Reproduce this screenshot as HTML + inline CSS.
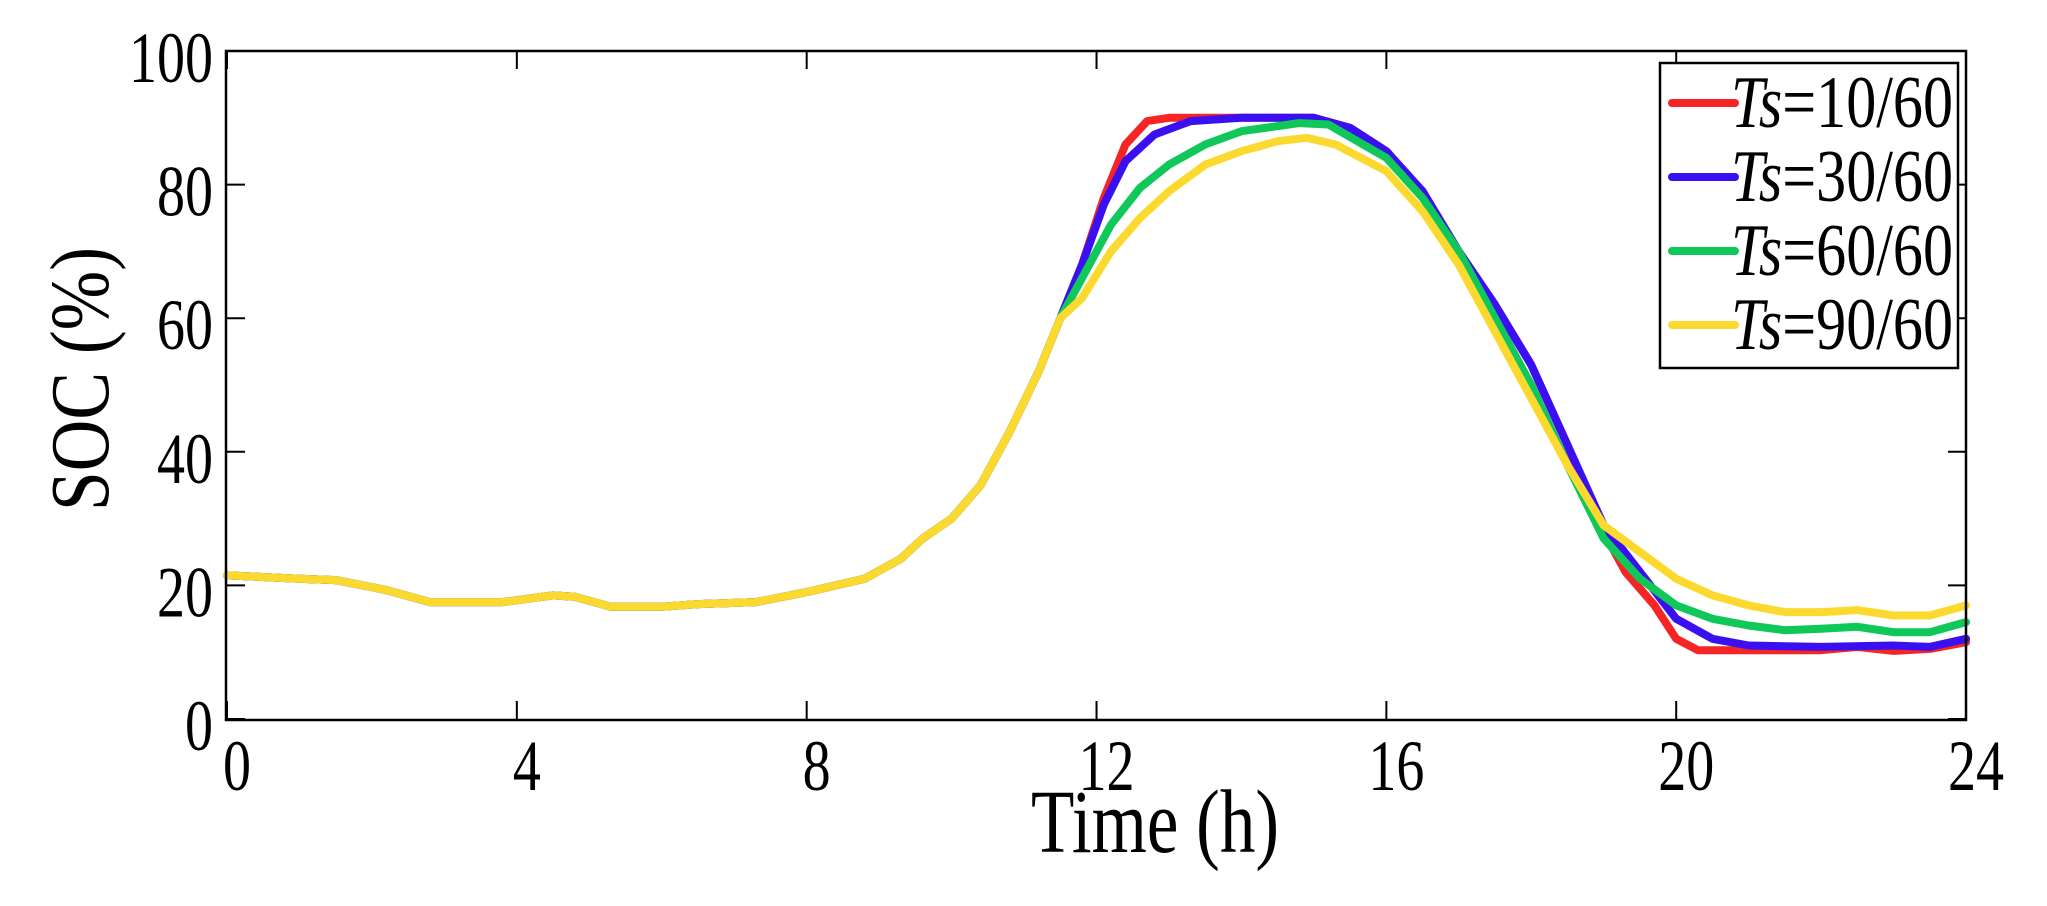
<!DOCTYPE html>
<html><head><meta charset="utf-8"><style>
html,body{margin:0;padding:0;background:#fff;}
svg text{font-family:"Liberation Serif",serif;fill:#000;}
</style></head><body>
<svg id="s" width="2047" height="901" viewBox="0 0 2047 901" xmlns="http://www.w3.org/2000/svg">
<rect width="2047" height="901" fill="#fff"/>
<g id="ticks" stroke="#000" stroke-width="2"></g>
<g id="lines" fill="none" stroke-width="8" stroke-linejoin="round" stroke-linecap="round"></g>
<rect x="226" y="51" width="1740" height="669" fill="none" stroke="#000" stroke-width="2.5"/>
<g font-size="72" text-anchor="end" id="yl"></g>
<g font-size="72" text-anchor="middle" id="xl"></g>
<text x="1155" y="852" font-size="90" text-anchor="middle" textLength="248" lengthAdjust="spacingAndGlyphs">Time (h)</text>
<text transform="translate(108,379) rotate(-90)" font-size="84" text-anchor="middle" textLength="264" lengthAdjust="spacingAndGlyphs">SOC (%)</text>
<rect x="1660" y="63" width="298" height="305" fill="#fff" stroke="#000" stroke-width="2.5"/>
<g stroke-width="8" stroke-linecap="round">
<line x1="1672" y1="103" x2="1735" y2="103" stroke="#f52525"/>
<line x1="1672" y1="177" x2="1735" y2="177" stroke="#3a10f0"/>
<line x1="1672" y1="251" x2="1735" y2="251" stroke="#10c85a"/>
<line x1="1672" y1="325" x2="1735" y2="325" stroke="#fcd92e"/>
</g>
<g font-size="74">
<text x="1731" y="127" textLength="222" lengthAdjust="spacingAndGlyphs"><tspan font-style="italic">Ts</tspan>=10/60</text>
<text x="1731" y="201" textLength="222" lengthAdjust="spacingAndGlyphs"><tspan font-style="italic">Ts</tspan>=30/60</text>
<text x="1731" y="275" textLength="222" lengthAdjust="spacingAndGlyphs"><tspan font-style="italic">Ts</tspan>=60/60</text>
<text x="1731" y="349" textLength="222" lengthAdjust="spacingAndGlyphs"><tspan font-style="italic">Ts</tspan>=90/60</text>
</g>
</svg>
<script>
var X=h=>227+h*72.46, Y=v=>719-v*6.68, ns="http://www.w3.org/2000/svg";
var t=document.getElementById('ticks'),xl=document.getElementById('xl'),yl=document.getElementById('yl');
function ln(g,a,b,c,d){var l=document.createElementNS(ns,'line');l.setAttribute('x1',a);l.setAttribute('y1',b);l.setAttribute('x2',c);l.setAttribute('y2',d);g.appendChild(l);}
function tx(g,x,y,s){var e=document.createElementNS(ns,'text');e.setAttribute('x',x);e.setAttribute('y',y);e.setAttribute('textLength',s.length*28);e.setAttribute('lengthAdjust','spacingAndGlyphs');e.textContent=s;g.appendChild(e);}
for(var h=0;h<=24;h+=4){ln(t,X(h),719,X(h),701);ln(t,X(h),51,X(h),69);tx(xl,X(h)+10,790,String(h));}
for(var v=0;v<=100;v+=20){ln(t,227,Y(v),245,Y(v));ln(t,1966,Y(v),1948,Y(v));tx(yl,213,Y(v)+31,String(v));}
var common=[[0,21.5],[1,21],[1.5,20.8],[2.2,19.3],[2.8,17.5],[3.8,17.5],[4.5,18.5],[4.8,18.3],[5.3,16.8],[6,16.8],[6.5,17.2],[7.3,17.5],[8,19],[8.8,21],[9.3,24],[9.6,27],[10,30],[10.4,35],[10.8,43],[11.2,52],[11.5,60]];
var S={
"#f52525":[[11.8,68],[12.1,78],[12.4,86],[12.7,89.5],[13,90],[15,90],[15.5,88.5],[16,85],[16.5,79],[17,70],[17.5,62],[18,53],[18.5,41],[19,28],[19.3,22],[19.7,17],[20,12],[20.3,10.3],[22,10.3],[22.5,10.8],[23,10.2],[23.5,10.5],[24,11.5]],
"#3a10f0":[[11.8,68],[12.1,77],[12.4,83.5],[12.8,87.5],[13.3,89.5],[14,90],[15,90],[15.5,88.5],[16,85],[16.5,79],[17,70],[17.5,62],[18,53],[18.5,41],[19,29],[19.5,22],[20,15],[20.5,12],[21,11],[22,10.8],[23,11],[23.5,10.8],[24,12]],
"#10c85a":[[11.8,66],[12.2,74],[12.6,79.5],[13,83],[13.5,86],[14,88],[14.8,89.2],[15.2,89],[16,84],[16.5,78],[17,70],[17.5,60],[18,50],[18.5,38],[19,27],[19.5,21],[20,17],[20.5,15],[21,14],[21.5,13.3],[22,13.5],[22.5,13.8],[23,13],[23.5,13],[24,14.5]],
"#fcd92e":[[11.8,63],[12.2,70],[12.6,75],[13,79],[13.5,83],[14,85],[14.5,86.5],[14.9,87],[15.3,86],[16,82],[16.5,76],[17,68],[17.5,58],[18,48],[18.5,38],[19,29],[19.5,25],[20,21],[20.5,18.5],[21,17],[21.5,16],[22,16],[22.5,16.3],[23,15.5],[23.5,15.5],[24,17]]};
var g=document.getElementById('lines');
for(var c in S){var p=document.createElementNS(ns,'polyline');p.setAttribute('stroke',c);
p.setAttribute('points',common.concat(S[c]).map(q=>X(q[0]).toFixed(1)+','+Y(q[1]).toFixed(1)).join(' '));g.appendChild(p);}
</script>
</body></html>
